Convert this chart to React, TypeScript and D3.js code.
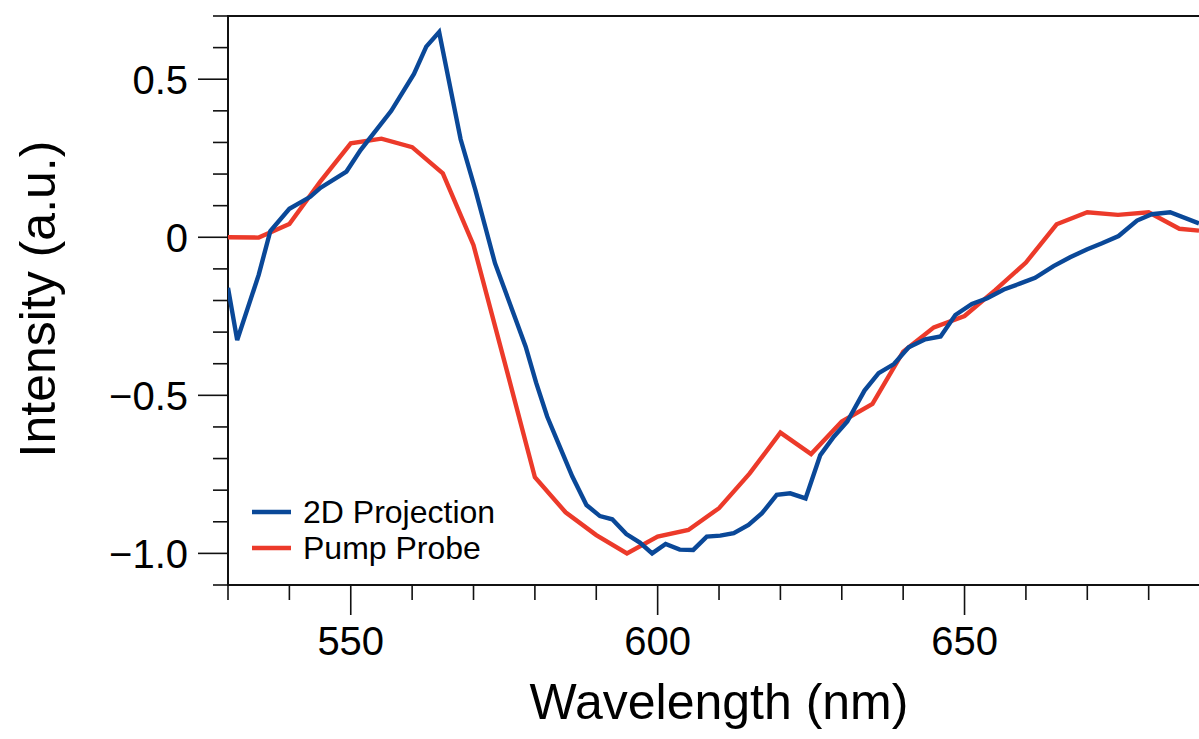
import React from "react";
import * as d3 from "d3";

// ---- Data ----
const projWavelength = [
  530.0, 531.5, 535.0, 536.9, 540.0, 543.4, 545.1, 549.3, 551.6, 556.6, 560.3, 562.3,
  564.4, 567.9, 570.3, 571.9, 573.5, 574.9, 576.8, 578.5, 580.2, 582.0, 584.0, 586.1,
  588.4, 590.6, 592.6, 594.9, 597.1, 599.1, 601.3, 603.6, 605.8, 608.0, 610.2, 612.4,
  614.8, 617.0, 619.4, 621.6, 624.1, 626.5, 628.7, 630.9, 633.7, 636.0, 638.5, 640.9,
  643.6, 646.1, 648.5, 651.2, 653.7, 656.4, 659.1, 661.5, 664.5, 667.2, 670.0, 672.4,
  675.1, 678.1, 680.5, 683.5, 688.2,
];
const projIntensity = [
  -0.16, -0.325, -0.119, 0.02, 0.09, 0.128, 0.157, 0.208, 0.276, 0.40, 0.517, 0.603,
  0.649, 0.31, 0.15, 0.034, -0.082, -0.156, -0.256, -0.346, -0.46, -0.567, -0.66, -0.757,
  -0.847, -0.882, -0.892, -0.939, -0.966, -1.0, -0.97, -0.988, -0.989, -0.947, -0.944, -0.936,
  -0.91, -0.873, -0.815, -0.81, -0.826, -0.689, -0.631, -0.583, -0.485, -0.43, -0.401, -0.348,
  -0.323, -0.314, -0.246, -0.211, -0.193, -0.165, -0.146, -0.128, -0.091, -0.063, -0.038, -0.019,
  0.004, 0.053, 0.073, 0.079, 0.044,
];

const pumpWavelength = [
  530, 535, 540, 545, 550, 555, 560, 565, 570, 575, 580, 585, 590, 595, 600, 605, 610,
  615, 620, 625, 630, 635, 640, 645, 650, 655, 660, 665, 670, 675, 680, 685, 688.2,
];
const pumpIntensity = [
  0.0, -0.001, 0.042, 0.175, 0.297, 0.312, 0.285, 0.202, -0.025, -0.39, -0.759, -0.87,
  -0.942, -1.0, -0.947, -0.926, -0.857, -0.747, -0.618, -0.686, -0.583, -0.527, -0.362,
  -0.285, -0.249, -0.167, -0.08, 0.041, 0.079, 0.071, 0.079, 0.027, 0.021,
];

const seriesNames = ["2D Projection", "Pump Probe"];
const seriesColors = ["#0a4898", "#ec3a2a"];

const xMajorTicks = [550, 600, 650];
const xMinorTicks = [530, 540, 560, 570, 580, 590, 610, 620, 630, 640, 660, 670, 680];
const yMajorTicks = [-1.0, -0.5, 0, 0.5];
const yMajorLabels = ["\u22121.0", "\u22120.5", "0", "0.5"];
const yMinorTicks = [-1.1, -0.9, -0.8, -0.7, -0.6, -0.4, -0.3, -0.2, -0.1, 0.1, 0.2, 0.3, 0.4, 0.6, 0.7];

const xTitle = "Wavelength (nm)";
const yTitle = "Intensity (a.u.)";

const W = 1199;
const H = 739;
const FONT = "'Liberation Sans', Arial, Helvetica, sans-serif";

export default function App() {
  const left = 228;
  const top = 16;
  const bottom = 585;
  const x = d3.scaleLinear().domain([530, 688.2]).range([left, 1199]);
  const y = d3.scaleLinear().domain([-1.1, 0.7]).range([bottom, top]);
  const right = x(690);

  const line = d3
    .line<[number, number]>()
    .x((d) => x(d[0]))
    .y((d) => y(d[1]));

  const projData: [number, number][] = projWavelength.map((w, i) => [w, projIntensity[i]]);
  const pumpData: [number, number][] = pumpWavelength.map((w, i) => [w, pumpIntensity[i]]);

  const majorLen = 30;
  const minorLen = 15;
  const axisColor = "#111";

  return (
    <svg
      width={W}
      height={H}
      style={{ position: "absolute", left: 0, top: 0, display: "block", background: "#fff" }}
    >
      <defs>
        <clipPath id="plotClip">
          <rect x={left} y={top} width={right - left} height={bottom - top} />
        </clipPath>
      </defs>

      {/* frame */}
      <line x1={left} x2={right} y1={top} y2={top} stroke={axisColor} strokeWidth={2} />
      <line x1={right} x2={right} y1={top} y2={bottom} stroke={axisColor} strokeWidth={2} />
      <line x1={left} x2={left} y1={top - 1} y2={bottom + 1} stroke={axisColor} strokeWidth={2} />
      <line x1={left - 1} x2={right} y1={bottom} y2={bottom} stroke={axisColor} strokeWidth={2} />

      {/* x ticks */}
      {xMinorTicks.map((t) => (
        <line key={"xm" + t} x1={x(t)} x2={x(t)} y1={bottom} y2={bottom + minorLen} stroke={axisColor} strokeWidth={1.6} />
      ))}
      {xMajorTicks.map((t) => (
        <g key={"xM" + t}>
          <line x1={x(t)} x2={x(t)} y1={bottom} y2={bottom + majorLen} stroke={axisColor} strokeWidth={1.6} />
          <text x={x(t)} y={655} textAnchor="middle" fontFamily={FONT} fontSize={40} fill="#000">
            {t}
          </text>
        </g>
      ))}

      {/* y ticks */}
      {yMinorTicks.map((t) => (
        <line key={"ym" + t} x1={left - minorLen} x2={left} y1={y(t)} y2={y(t)} stroke={axisColor} strokeWidth={1.6} />
      ))}
      {yMajorTicks.map((t, i) => (
        <g key={"yM" + t}>
          <line x1={left - majorLen} x2={left} y1={y(t)} y2={y(t)} stroke={axisColor} strokeWidth={1.6} />
          <text x={188} y={y(t)} dy="0.36em" textAnchor="end" fontFamily={FONT} fontSize={40} fill="#000">
            {yMajorLabels[i]}
          </text>
        </g>
      ))}

      {/* titles */}
      <text x={719} y={719} textAnchor="middle" fontFamily={FONT} fontSize={50} fill="#000">
        {xTitle}
      </text>
      <text
        transform={`translate(55, ${299}) rotate(-90)`}
        textAnchor="middle"
        fontFamily={FONT}
        fontSize={50}
        fill="#000"
      >
        {yTitle}
      </text>

      {/* series */}
      <g clipPath="url(#plotClip)">
        <path d={line(pumpData) || ""} fill="none" stroke={seriesColors[1]} strokeWidth={4.4} strokeLinejoin="miter" />
        <path d={line(projData) || ""} fill="none" stroke={seriesColors[0]} strokeWidth={4.4} strokeLinejoin="miter" />
      </g>

      {/* legend */}
      {seriesNames.map((name, i) => (
        <g key={name}>
          <line x1={252} x2={291} y1={512 + i * 36} y2={512 + i * 36} stroke={seriesColors[i]} strokeWidth={4.4} />
          <text x={303} y={512 + i * 36} dy="0.35em" fontFamily={FONT} fontSize={32} fill="#000">
            {name}
          </text>
        </g>
      ))}
    </svg>
  );
}
